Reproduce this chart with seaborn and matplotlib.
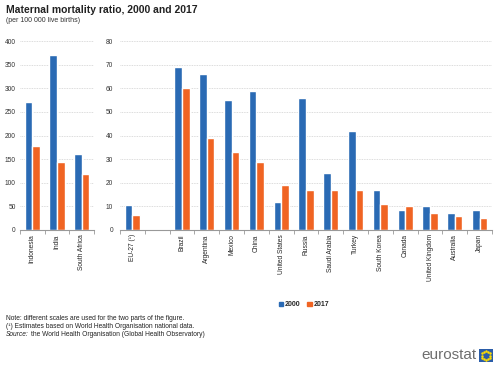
import numpy as np
import pandas as pd
import matplotlib
matplotlib.use("Agg")
import matplotlib.pyplot as plt
import seaborn as sns
from matplotlib.patches import Rectangle

# data
big_countries = ["Indonesia", "India", "South Africa"]
big_2000 = [272, 370, 160]
big_2017 = [177, 145, 119]

small_countries = ["EU-27 (¹)", "Brazil", "Argentina", "Mexico", "China", "United States",
                   "Russia", "Saudi Arabia", "Turkey", "South Korea", "Canada",
                   "United Kingdom", "Australia", "Japan"]
small_2000 = [10.5, 69, 66, 55, 59, 12, 56, 24, 42, 17, 8.5, 10, 7, 8.5]
small_2017 = [6.3, 60, 39, 33, 29, 19, 17, 17, 17, 11, 10, 7, 6, 5]
years = ["2000", "2017"]

BLUE = "#2a6ab4"
ORANGE = "#f06423"

sns.set_theme(style="white")
plt.rcParams["font.family"] = ["Liberation Sans", "DejaVu Sans"]


def to_long(countries, v2000, v2017):
    df = pd.DataFrame({"country": countries, "2000": v2000, "2017": v2017})
    return df.melt(id_vars="country", var_name="year", value_name="value")


def style_axis(ax, ymax, step, n, ypad):
    ax.set_ylim(0, ymax)
    ax.set_yticks(np.arange(0, ymax + 1, step))
    ax.yaxis.grid(True, color="#d0d0d0", linestyle=(0, (1, 1)), linewidth=0.6)
    ax.set_axisbelow(True)
    for s in ["top", "right", "left"]:
        ax.spines[s].set_visible(False)
    ax.spines["bottom"].set_color("#999999")
    ax.spines["bottom"].set_linewidth(0.8)
    ax.set_xlim(-0.5, n - 0.5)
    ax.set_xticks(np.arange(-0.5, n, 1), minor=True)
    ax.tick_params(axis="x", which="minor", length=3, width=0.6, color="#999999", bottom=True)
    ax.tick_params(axis="x", which="major", length=0, labelsize=4.8, rotation=90, pad=3)
    ax.tick_params(axis="y", length=0, labelsize=4.8, pad=ypad, colors="#333333")
    ax.set_xlabel("")
    ax.set_ylabel("")
    if ax.get_legend() is not None:
        ax.get_legend().remove()


fig = plt.figure(figsize=(5, 3.66), dpi=100)
ax1 = fig.add_axes([0.04, 0.3716, 0.148, 0.516])
ax2 = fig.add_axes([0.24, 0.3716, 0.744, 0.516])

df_big = to_long(big_countries, big_2000, big_2017)
sns.barplot(data=df_big, x="country", y="value", hue="year", hue_order=years,
            order=big_countries, palette=[BLUE, ORANGE], width=0.62,
            saturation=1, ax=ax1)
style_axis(ax1, 400, 50, len(big_countries), 3)

order_small = [small_countries[0], " "] + small_countries[1:]
df_small = to_long(small_countries, small_2000, small_2017)
sns.barplot(data=df_small, x="country", y="value", hue="year", hue_order=years,
            order=order_small, palette=[BLUE, ORANGE], width=0.62,
            saturation=1, ax=ax2)
style_axis(ax2, 80, 10, len(order_small), 5)

handles = [Rectangle((0, 0), 1, 1, color=BLUE), Rectangle((0, 0), 1, 1, color=ORANGE)]
fig.legend(handles, years, loc="center", bbox_to_anchor=(0.608, 1 - 305 / 366), ncol=2,
           frameon=False, handlelength=0.6, handleheight=0.6,
           handletextpad=0.3, columnspacing=1.0, prop={"weight": "bold", "size": 5})

fig.text(0.012, 1 - 10 / 366, "Maternal mortality ratio, 2000 and 2017",
         fontsize=7.5, fontweight="bold", va="center", color="#222222")
fig.text(0.012, 1 - 21 / 366, "(per 100 000 live births)", fontsize=5,
         va="center", color="#333333")

fig.text(0.012, 1 - 319 / 366, "Note: different scales are used for the two parts of the figure.",
         fontsize=4.8, va="center", color="#222222")
fig.text(0.012, 1 - 327 / 366, "(¹) Estimates based on World Health Organisation national data.",
         fontsize=4.8, va="center", color="#222222")
fig.text(0.012, 1 - 335 / 366, "Source:", fontsize=4.8, va="center", style="italic",
         color="#222222")
fig.text(0.062, 1 - 335 / 366, "the World Health Organisation (Global Health Observatory)",
         fontsize=4.8, va="center", color="#222222")

# eurostat logo
fig.text(0.954, 1 - 355 / 366, "eurostat", fontsize=11, ha="right", va="center",
         color="#6e6e6e")
fig.patches.append(Rectangle((0.958, 1 - 362 / 366), 0.028, 13 / 366,
                             transform=fig.transFigure, facecolor="#2a5ca8",
                             edgecolor="none"))
ang = np.linspace(0, 2 * np.pi, 12, endpoint=False)
fig.lines.append(plt.Line2D(0.972 + 0.0085 * np.cos(ang),
                            1 - 355.5 / 366 + 0.0115 * np.sin(ang),
                            transform=fig.transFigure, linestyle="none",
                            marker="o", markersize=0.8, color="#ffdd00"))

fig.savefig("out.png", dpi=100)
